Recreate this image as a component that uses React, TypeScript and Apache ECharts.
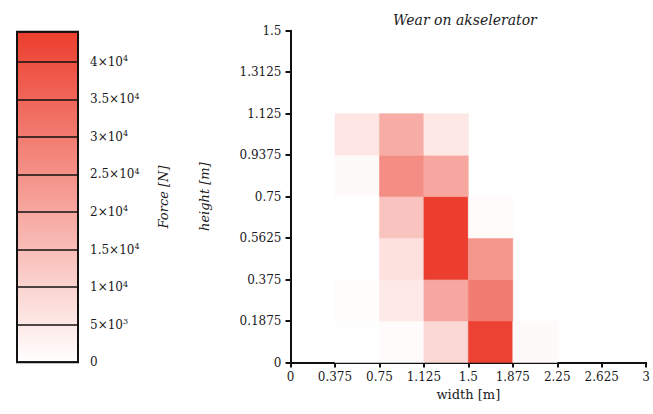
import React, { useEffect, useRef } from 'react';
import * as echarts from 'echarts';

// bin edges (m)
const widthEdges = [0, 0.375, 0.75, 1.125, 1.5, 1.875, 2.25, 2.625, 3];
const heightEdges = [0, 0.1875, 0.375, 0.5625, 0.75, 0.9375, 1.125, 1.3125, 1.5];

// Force [N] per cell, rows from bottom (height bin 0) upward, columns by width bin
const forceRow0 = [0, 300, 1000, 9000, 43000, 1200, 0, 0];
const forceRow1 = [0, 700, 5000, 20000, 30000, 0, 0, 0];
const forceRow2 = [0, 0, 6800, 44000, 24000, 0, 0, 0];
const forceRow3 = [0, 0, 13500, 44000, 1000, 0, 0, 0];
const forceRow4 = [0, 1200, 26000, 20000, 0, 0, 0, 0];
const forceRow5 = [0, 5600, 19000, 5200, 0, 0, 0, 0];
const forceRows = [forceRow0, forceRow1, forceRow2, forceRow3, forceRow4, forceRow5];

const forceMax = 44000;
const colorbarTicks = [0, 5000, 10000, 15000, 20000, 25000, 30000, 35000, 40000];
const colorbarMantissa = ['0', '5', '1', '1.5', '2', '2.5', '3', '3.5', '4'];
const colorbarExponent = ['', '3', '4', '4', '4', '4', '4', '4', '4'];

const titleText = 'Wear on akselerator';
const RED = '#ec3e2e';
const FONT = 'DejaVu Serif';
const TXT = '#1a1a22';

export default function App() {
  const ref = useRef<HTMLDivElement>(null);
  useEffect(() => {
    if (!ref.current) return;
    const chart = echarts.init(ref.current, undefined, { renderer: 'svg' });
    const data: number[][] = [];
    forceRows.forEach((row, j) => {
      row.forEach((v, i) => {
        if (v > 0) data.push([widthEdges[i], widthEdges[i + 1], heightEdges[j], heightEdges[j + 1], v]);
      });
    });
    const option: any = {
      animation: false,
      backgroundColor: '#fff',
      title: {
        text: titleText,
        left: 388,
        top: 8,
        textStyle: { fontFamily: FONT, fontStyle: 'italic', fontWeight: 'normal', fontSize: 14, color: TXT },
      },
      visualMap: {
        show: false,
        type: 'continuous',
        min: 0,
        max: forceMax,
        dimension: 4,
        seriesIndex: 0,
        inRange: { color: ['#ffffff', RED] },
      },
      grid: [
        { left: 290.5, right: 6, top: 30.7, bottom: 51.5, containLabel: false },
        {
          left: 17,
          top: 31.7,
          width: 61,
          height: 330.5,
          show: true,
          borderColor: '#111',
          borderWidth: 2,
          backgroundColor: new echarts.graphic.LinearGradient(0, 0, 0, 1, [
            { offset: 0, color: RED },
            { offset: 1, color: '#ffffff' },
          ]),
        },
      ],
      xAxis: [
        {
          type: 'value',
          gridIndex: 0,
          min: 0,
          max: 3,
          interval: 0.375,
          name: 'width [m]',
          nameLocation: 'middle',
          nameGap: 25,
          nameTextStyle: { fontFamily: FONT, fontSize: 13, color: TXT },
          axisLine: { lineStyle: { color: '#111', width: 2 } },
          axisTick: { show: true, length: 5, lineStyle: { color: '#111', width: 2 } },
          axisLabel: { fontFamily: FONT, fontSize: 12, color: TXT, margin: 8 },
          splitLine: { show: false },
        },
        { type: 'value', gridIndex: 1, min: 0, max: 1, show: false },
      ],
      yAxis: [
        {
          type: 'value',
          gridIndex: 0,
          min: 0,
          max: 1.5,
          interval: 0.1875,
          name: 'height [m]',
          nameLocation: 'middle',
          nameRotate: 90,
          nameGap: 80,
          nameTextStyle: { fontFamily: FONT, fontStyle: 'italic', fontSize: 13, color: TXT },
          axisLine: { show: true, lineStyle: { color: '#111', width: 2 } },
          axisTick: { show: true, length: 5, lineStyle: { color: '#111', width: 2 } },
          axisLabel: { fontFamily: FONT, fontSize: 12, color: TXT, margin: 9 },
          splitLine: { show: false },
        },
        {
          type: 'value',
          gridIndex: 1,
          position: 'right',
          min: 0,
          max: forceMax,
          interval: 5000,
          name: 'Force [N]',
          nameLocation: 'middle',
          nameRotate: 90,
          nameGap: 79,
          nameTextStyle: { fontFamily: FONT, fontStyle: 'italic', fontSize: 13, color: TXT },
          axisLine: { show: false },
          axisTick: { show: false },
          axisLabel: {
            fontFamily: FONT,
            fontSize: 12,
            color: TXT,
            margin: 12,
            showMaxLabel: false,
            formatter: (v: number) => {
              const k = colorbarTicks.indexOf(v);
              if (k < 0) return '';
              if (!colorbarExponent[k]) return colorbarMantissa[k];
              return `{m|${colorbarMantissa[k]}×10}{e|${colorbarExponent[k]}}`;
            },
            rich: {
              m: { fontFamily: FONT, fontSize: 12, color: TXT },
              e: { fontFamily: FONT, fontSize: 8, color: TXT, verticalAlign: 'bottom', padding: [0, 0, 6, 0] },
            },
          },
          splitLine: { show: true, lineStyle: { color: '#111', width: 1.5 } },
        },
      ],
      series: [
        {
          type: 'custom',
          xAxisIndex: 0,
          yAxisIndex: 0,
          encode: { x: [0, 1], y: [2, 3] },
          data,
          renderItem: (params: any, api: any) => {
            const p0 = api.coord([api.value(0), api.value(2)]);
            const p1 = api.coord([api.value(1), api.value(3)]);
            const c = api.visual('color');
            return {
              type: 'rect',
              shape: { x: p0[0], y: p1[1], width: p1[0] - p0[0], height: p0[1] - p1[1] },
              style: { fill: c, stroke: c, lineWidth: 0.5 },
            };
          },
        },
      ],
    };
    chart.setOption(option);
    return () => chart.dispose();
  }, []);
  return <div ref={ref} style={{ width: 653, height: 414, position: 'absolute', left: 0, top: 0 }} />;
}
